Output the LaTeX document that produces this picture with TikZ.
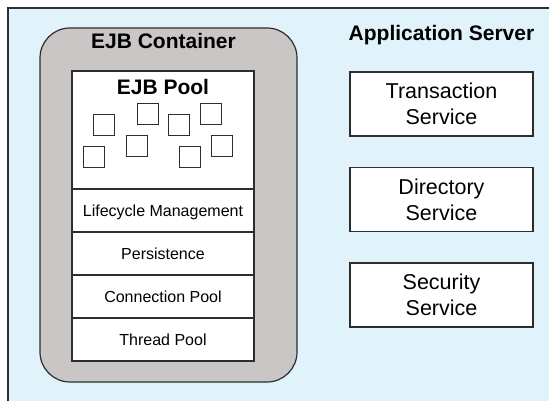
\documentclass[tikz,border=0pt]{standalone}
\usepackage{fontspec}
\setmainfont{Liberation Sans}
\usetikzlibrary{positioning}
\definecolor{server_blue}{RGB}{225,243,250}
\definecolor{container_gray}{RGB}{201,198,197}
\definecolor{edge_gray}{RGB}{45,45,45}
\tikzstyle{container_box} = [
    rectangle,
    rounded corners=30pt,
    draw=edge_gray,
    fill=container_gray,
    line width=1.2pt,
    minimum width=257pt,
    minimum height=354pt,
    inner sep=0pt
]
\tikzstyle{layer_row} = [
    rectangle,
    draw=edge_gray,
    fill=white,
    line width=1.2pt,
    minimum width=182pt,
    minimum height=43pt,
    inner sep=0pt,
    outer sep=0pt,
    text height=11.5pt, % cap height of 16pt text
    text depth=0pt,
    font=\fontsize{16}{19}\selectfont
]
\tikzstyle{service_box} = [
    rectangle,
    draw=edge_gray,
    fill=white,
    line width=1.2pt,
    align=center,
    minimum width=183pt,
    minimum height=64pt,
    inner sep=0pt,
    outer sep=0pt,
    font=\fontsize{21.5}{26}\selectfont
]
\tikzstyle{bean} = [
    rectangle,
    draw=edge_gray,
    fill=white,
    line width=1pt,
    minimum size=21pt,
    inner sep=0pt
]
\tikzstyle{title_text} = [
    anchor=base,
    inner sep=0pt,
    font=\fontsize{21}{25}\selectfont\bfseries
]

\begin{document}
\begin{tikzpicture}[
    x=1pt,
    y=-1pt
]
\useasboundingbox (0,0) rectangle (549,401);
\fill[server_blue] (8,8) rectangle (549,401);
\draw[edge_gray, line width=1.2pt] (549,8) -- (8,8) -- (8,401);

% container with its stack
\node [container_box] (ejb_container) at (168.5,205) {};
\node [title_text] (container_title) at (163.5,49) {EJB Container};
\node [layer_row, minimum height=118pt] (ejb_pool) at (163,130) {};
\node [title_text] (pool_title) at (163,95) {EJB Pool};
\node [layer_row, below=0pt of ejb_pool] (lifecycle) {Lifecycle Management};
\node [layer_row, below=0pt of lifecycle] (persistence) {Persistence};
\node [layer_row, below=0pt of persistence] (connection_pool) {Connection Pool};
\node [layer_row, below=0pt of connection_pool] (thread_pool) {Thread Pool};

\foreach \bx/\by [count=\i] in {104/125.5, 147.5/114.5, 179/125.5, 211/114.5,
                                93.5/157.5, 136.5/146.5, 190/157.5, 222/146.5}
    \node [bean] (bean\i) at (\bx,\by) {};

% server services
\node [title_text] (server_title) at (441.5,41) {Application Server};
\node [service_box] (transaction) at (441.5,104) {Transaction\\Service};
\node [service_box, below=31.5pt of transaction] (directory) {Directory\\Service};
\node [service_box, below=31.5pt of directory] (security) {Security\\Service};
\end{tikzpicture}
\end{document}
